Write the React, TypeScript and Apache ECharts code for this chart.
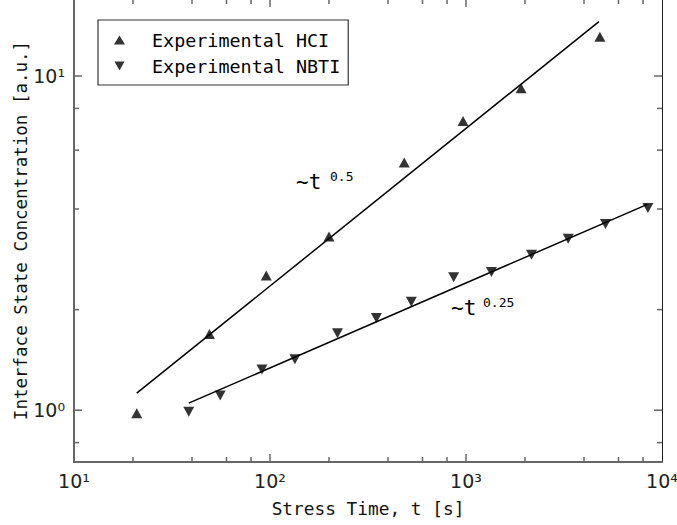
import React, { useEffect, useRef } from "react";
import * as echarts from "echarts";

// Stress time [s] and interface state concentration [a.u.]
const hciTime = [20.9, 49.1, 95.7, 200, 484, 966, 1910, 4820];
const hciConc = [0.98, 1.69, 2.53, 3.31, 5.51, 7.34, 9.19, 13.1];

const nbtiTime = [38.5, 55.7, 91, 134, 221, 349, 526, 865, 1348, 2158, 3322, 5148, 8472];
const nbtiConc = [0.99, 1.106, 1.324, 1.422, 1.7, 1.888, 2.113, 2.5, 2.594, 2.918, 3.26, 3.61, 4.03];

// Power-law fit lines (end points)
const hciFitTime = [20.9, 4765];
const hciFitConc = [1.125, 14.55];
const nbtiFitTime = [38.5, 8420];
const nbtiFitConc = [1.05, 4.13];

// Tick positions
const xMajorTicks = [100, 1000];
const xMinorTicks = [20, 40, 60, 80, 200, 400, 600, 800, 2000, 4000, 6000, 8000];
const yMajorTicks = [1, 10];
const yMinorTicks = [0.8, 2, 4, 6, 8];

const SUP: Record<string, string> = {
  "-": "⁻", "0": "⁰", "1": "¹", "2": "²", "3": "³", "4": "⁴",
  "5": "⁵", "6": "⁶", "7": "⁷", "8": "⁸", "9": "⁹",
};

function powerLabel(v: number): string {
  const e = Math.log10(v);
  const r = Math.round(e);
  if (Math.abs(e - r) > 1e-6) return "";
  return "10" + String(r).split("").map((c) => SUP[c] || c).join("");
}

const zip = (a: number[], b: number[]) => a.map((v, i) => [v, b[i]]);

const DOWN_TRI = "path://M0,0L10,0L5,9Z";
const TICK_COLOR = "#666";
const MONO = "DejaVu Sans Mono";

export default function App() {
  const ref = useRef<HTMLDivElement>(null);

  useEffect(() => {
    if (!ref.current) return;
    const chart = echarts.init(ref.current, undefined, { renderer: "svg" });

    const tickStyle = { stroke: TICK_COLOR, lineWidth: 1.5 };

    // inward tick marks on bottom and top edges
    const xTickItem = (params: any, api: any) => {
      const cs = params.coordSys;
      const len = api.value(2) === 0 ? 8 : 5;
      const px = api.coord([api.value(0), api.value(1)])[0];
      const bottom = cs.y + cs.height;
      return {
        type: "group",
        children: [
          { type: "line", shape: { x1: px, y1: bottom, x2: px, y2: bottom - len }, style: tickStyle },
          { type: "line", shape: { x1: px, y1: cs.y, x2: px, y2: cs.y + len }, style: tickStyle },
        ],
      };
    };

    // inward tick marks on left and right edges
    const yTickItem = (params: any, api: any) => {
      const cs = params.coordSys;
      const len = api.value(2) === 0 ? 8 : 5;
      const py = api.coord([api.value(0), api.value(1)])[1];
      const right = cs.x + cs.width;
      return {
        type: "group",
        children: [
          { type: "line", shape: { x1: cs.x, y1: py, x2: cs.x + len, y2: py }, style: tickStyle },
          { type: "line", shape: { x1: right, y1: py, x2: right - len, y2: py }, style: tickStyle },
        ],
      };
    };

    const xAxisBase = {
      type: "log",
      logBase: 10,
      min: 10,
      max: 10000,
      splitLine: { show: false },
      axisTick: { show: false },
    };
    const yAxisBase = {
      type: "log",
      logBase: 10,
      min: 0.7,
      max: 17,
      splitLine: { show: false },
      axisTick: { show: false },
    };

    chart.setOption({
      animation: false,
      backgroundColor: "#fff",
      grid: {
        left: 74,
        right: 15,
        top: -1,
        bottom: 63,
        containLabel: false,
        outerBoundsMode: "none",
      },
      xAxis: [
        {
          ...xAxisBase,
          position: "bottom",
          axisLine: { lineStyle: { color: TICK_COLOR, width: 2 } },
          axisLabel: {
            formatter: powerLabel,
            margin: 9,
            color: "#222",
            fontFamily: "DejaVu Sans",
            fontSize: 19,
          },
          name: "Stress Time, t [s]",
          nameLocation: "middle",
          nameGap: 37,
          nameMoveOverlap: false,
          nameTextStyle: { fontFamily: MONO, fontSize: 17.8, color: "#111" },
        },
        {
          ...xAxisBase,
          position: "top",
          axisLine: { lineStyle: { color: TICK_COLOR, width: 2 } },
          axisLabel: { show: false },
        },
      ],
      yAxis: [
        {
          ...yAxisBase,
          position: "left",
          axisLine: { lineStyle: { color: TICK_COLOR, width: 2 } },
          axisLabel: {
            formatter: powerLabel,
            margin: 9,
            color: "#222",
            fontFamily: "DejaVu Sans",
            fontSize: 19,
          },
          name: "Interface State Concentration [a.u.]",
          nameLocation: "middle",
          nameGap: 44,
          nameMoveOverlap: false,
          nameTextStyle: { fontFamily: MONO, fontSize: 17.5, color: "#111" },
        },
        {
          ...yAxisBase,
          position: "right",
          axisLine: { lineStyle: { color: "#222", width: 1 } },
          axisLabel: { show: false },
        },
      ],
      legend: {
        left: 98,
        top: 20,
        orient: "vertical",
        padding: [11, 8, 10, 16],
        itemGap: 8,
        itemWidth: 11,
        itemHeight: 9,
        borderColor: "#333",
        borderWidth: 1.2,
        selectedMode: false,
        textStyle: {
          fontFamily: MONO,
          fontSize: 18.4,
          color: "#000",
          padding: [0, 0, 0, 22],
        },
        data: [
          { name: "Experimental HCI", icon: "triangle" },
          { name: "Experimental NBTI", icon: DOWN_TRI },
        ],
      },
      graphic: [
        {
          type: "text",
          left: 296,
          top: 171,
          style: { text: "~t", fontFamily: MONO, fontSize: 21, fill: "#000" },
        },
        {
          type: "text",
          left: 330,
          top: 170,
          style: { text: "0.5", fontFamily: MONO, fontSize: 13, fill: "#000" },
        },
        {
          type: "text",
          left: 451,
          top: 297,
          style: { text: "~t", fontFamily: MONO, fontSize: 21, fill: "#000" },
        },
        {
          type: "text",
          left: 483,
          top: 296,
          style: { text: "0.25", fontFamily: MONO, fontSize: 13, fill: "#000" },
        },
      ],
      series: [
        {
          name: "Experimental HCI",
          type: "scatter",
          symbol: "triangle",
          symbolSize: [11, 10],
          itemStyle: { color: "#000" },
          data: zip(hciTime, hciConc),
          z: 5,
        },
        {
          name: "Experimental NBTI",
          type: "scatter",
          symbol: DOWN_TRI,
          symbolSize: [11, 10],
          itemStyle: { color: "#000" },
          data: zip(nbtiTime, nbtiConc),
          z: 5,
        },
        {
          name: "HCI fit",
          type: "line",
          showSymbol: false,
          symbol: "none",
          lineStyle: { color: "#000", width: 1.5 },
          data: zip(hciFitTime, hciFitConc),
          z: 4,
        },
        {
          name: "NBTI fit",
          type: "line",
          showSymbol: false,
          symbol: "none",
          lineStyle: { color: "#000", width: 1.5 },
          data: zip(nbtiFitTime, nbtiFitConc),
          z: 4,
        },
        {
          name: "x ticks",
          type: "custom",
          renderItem: xTickItem,
          silent: true,
          clip: false,
          data: [
            ...xMajorTicks.map((v) => [v, 1, 0]),
            ...xMinorTicks.map((v) => [v, 1, 1]),
          ],
          z: 6,
        },
        {
          name: "y ticks",
          type: "custom",
          renderItem: yTickItem,
          silent: true,
          clip: false,
          data: [
            ...yMajorTicks.map((v) => [100, v, 0]),
            ...yMinorTicks.map((v) => [100, v, 1]),
          ],
          z: 6,
        },
      ],
    });

    return () => chart.dispose();
  }, []);

  return (
    <div
      ref={ref}
      style={{ position: "fixed", left: 0, top: 0, width: 677, height: 525 }}
    />
  );
}
